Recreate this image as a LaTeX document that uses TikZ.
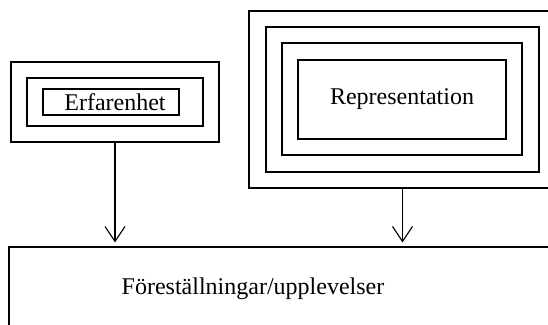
\documentclass[tikz,border=0pt]{standalone}
\usepackage{fontspec}
\setmainfont{Liberation Serif}
\usepackage{tikz}
\usetikzlibrary{arrows.meta,calc}

\begin{document}
\begin{tikzpicture}[x=1pt,y=-1pt,
        box/.style={draw, line width=1.1pt, inner sep=0pt, font=\fontsize{24}{28}\selectfont},
        arr/.style={line width=1.1pt, -{Straight Barb[length=15pt,width=20pt,line width=1.1pt]}, shorten >=4pt}]
            \useasboundingbox (0,0) rectangle (548,324);

            % Erfarenhet
            \node[box, minimum width=208, minimum height=80] (erf3) at (115,102) {};
            \node[box, minimum width=176, minimum height=48] (erf2) at (115,102) {};
            \node[box, minimum width=136, minimum height=26] (erf1) at (111,102) {\hspace*{8pt}Erfarenhet};

            % Representation
            \node[box, minimum width=307, minimum height=177] (rep4) at (402.5,99.5) {};
            \node[box, minimum width=273, minimum height=145] (rep3) at (402.5,99.5) {};
            \node[box, minimum width=240, minimum height=112] (rep2) at (402,99) {};
            \node[box, minimum width=208, minimum height=79] (rep1) at (402,99.5) {Representation};

            % Foreställningar
            \node[box, minimum width=561, minimum height=93] (fore) at (289.5,293.5) {};
            \node[font=\fontsize{24}{28}\selectfont, inner sep=0pt] (foretext) at (253,289) {Föreställningar/upplevelser};

            \draw[arr] (erf3.south) -- (erf3.south |- fore.north);
            \draw[arr] (rep4.south) -- (rep4.south |- fore.north);
        \end{tikzpicture}
\end{document}
